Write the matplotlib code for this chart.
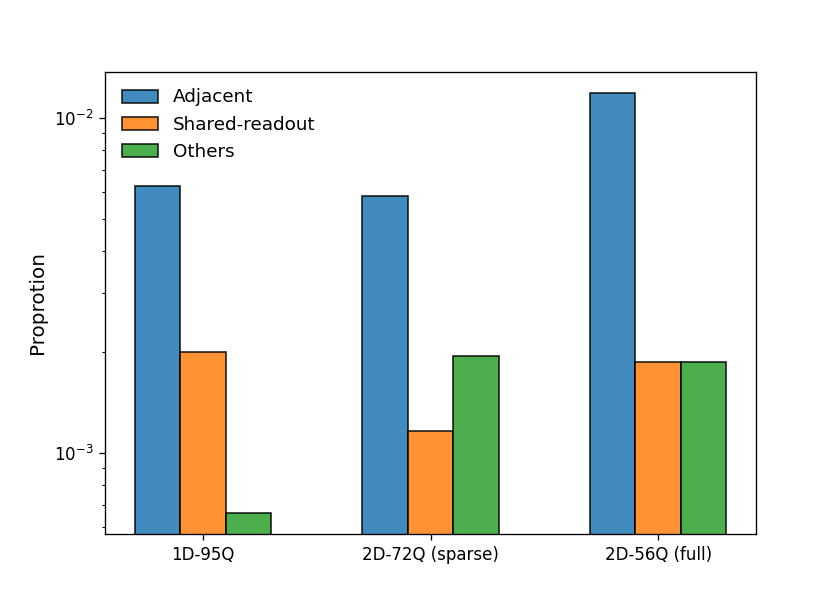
import matplotlib
matplotlib.use("Agg")
import matplotlib.pyplot as plt
import numpy as np

categories = ["1D-95Q", "2D-72Q (sparse)", "2D-56Q (full)"]
series_names = ["Adjacent", "Shared-readout", "Others"]
adjacent = [6.27e-3, 5.85e-3, 1.19e-2]
shared_readout = [2.0e-3, 1.16e-3, 1.87e-3]
others = [6.62e-4, 1.95e-3, 1.87e-3]
colors = ["#1f77b4", "#ff7f0e", "#2ca02c"]

fig, ax = plt.subplots(figsize=(7, 5), dpi=120)
x = np.arange(len(categories))
w = 0.2
for i, (vals, name, c) in enumerate(zip([adjacent, shared_readout, others], series_names, colors)):
    ax.bar(x + (i - 1) * w, vals, width=w, color=c, alpha=0.85, edgecolor="black", label=name)

ax.set_yscale("log")
ax.set_ylim(5.73e-4, 1.37e-2)
ax.set_xticks(x)
ax.set_xticklabels(categories)
ax.set_ylabel("Proprotion", fontsize=12)
ax.legend(loc="upper left", frameon=False, fontsize=11)
fig.savefig("out.png", dpi=120)
